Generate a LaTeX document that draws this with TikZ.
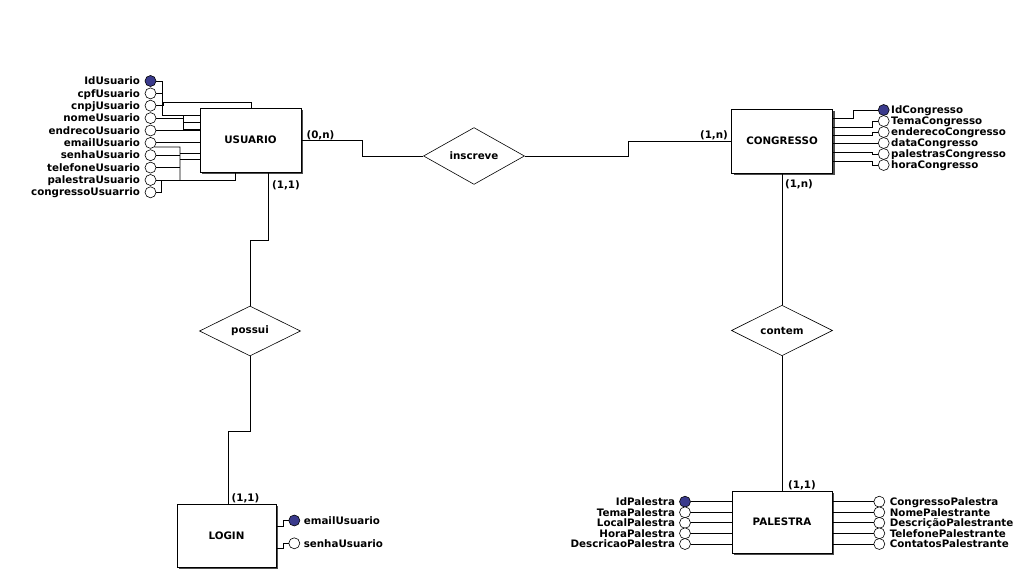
\documentclass[tikz,border=0pt]{standalone}
\usepackage{fontspec}
\setmainfont{DejaVu Sans}
\usetikzlibrary{shapes.geometric,shadows}
\definecolor{keyblue}{RGB}{58,58,140}
\begin{document}
\begin{tikzpicture}[x=1pt,y=-1pt,
  every node/.style={font=\fontsize{10.3}{12}\selectfont\bfseries},
  entity/.style={draw, line width=0.8pt, fill=white, inner sep=0pt, minimum width=101pt, minimum height=64pt,
    drop shadow={shadow xshift=2pt, shadow yshift=-2pt, fill=black!70, opacity=1}},
  rel/.style={diamond, draw, line width=0.6pt, fill=white, inner sep=0pt, minimum width=101pt, minimum height=50pt},
  attr/.style={circle, draw, line width=0.6pt, fill=white, inner sep=0pt, minimum size=11pt},
  keyattr/.style={attr, fill=keyblue},
  conn/.style={line width=0.8pt},
  card/.style={inner sep=0pt},
  ltxt/.style={anchor=base east, inner sep=0pt, yshift=-3.7pt},
  rtxt/.style={anchor=base west, inner sep=0pt, yshift=-3.7pt},
]
\useasboundingbox[fill=white] (0,0) rectangle (1023,575);

% entities
\node[entity] (usuario) at (250.5,140) {USUARIO};
\node[entity] (congresso) at (782,141) {CONGRESSO};
\node[entity, minimum width=100pt, minimum height=62pt] (palestra) at (782,522) {PALESTRA};
\node[entity, minimum width=99pt, minimum height=63pt] (login) at (226.5,535.5) {LOGIN};

% relationships
\node[rel] (inscreve) at (474,156) {inscreve};
\node[rel] (possui) at (250,331) {possui};
\node[rel] (contem) at (782,330.5) {contem};

% relationship connectors
\draw[conn] (usuario.east) -- ++(61,0) |- (inscreve.west);
\draw[conn] (inscreve.east) -- ++(104,0) |- (congresso.west);
\draw[conn] ([xshift=18pt]usuario.south) -- ++(0,68) -| (possui.north);
\draw[conn] (possui.south) -- ++(0,75) -| ([xshift=1.5pt]login.north);
\draw[conn] (congresso.south) -- (contem.north);
\draw[conn] (contem.south) -- (palestra.north);

% cardinalities
\node[card] (k1) at (320.5,135) {(0,n)};
\node[card] (k2) at (714,135) {(1,n)};
\node[card] (k3) at (286,185) {(1,1)};
\node[card] (k4) at (245.5,498) {(1,1)};
\node[card] (k5) at (799,184.5) {(1,n)};
\node[card] (k6) at (802,485) {(1,1)};

% USUARIO attributes
\node[keyattr] (u1) at (150.5,81) {};
\node[ltxt] (ut1) at ([xshift=-4.5pt]u1.west) {IdUsuario};
\foreach \i/\yy/\t in {2/93.4/cpfUsuario, 3/105.7/cnpjUsuario, 4/118.1/nomeUsuario,
  5/130.5/endrecoUsuario, 6/142.9/emailUsuario, 7/155.2/senhaUsuario,
  8/167.6/telefoneUsuario, 9/180/palestraUsuario, 10/192.3/congressoUsuarrio}{
  \node[attr] (u\i) at (150.5,\yy) {};
  \node[ltxt] (ut\i) at ([xshift=-4.5pt]u\i.west) {\t};
}
\draw[conn] (u1.east) -- (162,81) -- (162,115) -- (usuario.west |- 0,115);
\draw[conn] (u2.east) -- (162,93.4);
\draw[conn] (u3.east) -- (163,105.7) -- (163,102) -- (251,102) -- (usuario.north -| 251,0);
\draw[conn] (162,115) -- (183,115) -- (183,129) -- (usuario.west |- 0,129);
\draw[conn] (u4.east) -- (183,118.1) -- (183,122) -- (usuario.west |- 0,122);
\draw[conn] (u5.east) -- (usuario.west |- u5.east);
\draw[conn] (u6.east) -- (usuario.west |- u6.east);
\draw[conn] (u6.-45) -- (180,147) -- (180,180);
\draw[conn] (u7.east) -- (180,155.2);
\draw[conn] (180,153.5) -- (usuario.west |- 0,153.5);
\draw[conn] (180,159.5) -- (usuario.west |- 0,159.5);
\draw[conn] (u8.east) -- (180,167.6);
\draw[conn] (u9.east) -- (235,180) -- (usuario.south -| 235,0);
\draw[conn] (u10.east) -- (161,192.3) -- (161,180);

% CONGRESSO attributes
\node[keyattr] (c1) at (883.7,110) {};
\node[rtxt] (ct1) at ([xshift=1.5pt]c1.east) {IdCongresso};
\foreach \i/\yy/\t in {2/121/TemaCongresso, 3/132/enderecoCongresso, 4/143/dataCongresso,
  5/154/palestrasCongresso, 6/165/horaCongresso}{
  \node[attr] (c\i) at (883.7,\yy) {};
  \node[rtxt] (ct\i) at ([xshift=1.5pt]c\i.east) {\t};
}
\draw[conn] (congresso.east |- 0,118) -- (853,118) |- (c1.west);
\draw[conn] (congresso.east |- 0,127) -- (872,127) |- (c2.west);
\draw[conn] (congresso.east |- 0,135) -- (872,135) |- (c3.west);
\draw[conn] (congresso.east |- c4.west) -- (c4.west);
\draw[conn] (congresso.east |- 0,152) -- (872,152) |- (c5.west);
\draw[conn] (congresso.east |- 0,161) -- (872,161) |- (c6.west);

% PALESTRA attributes
\node[keyattr] (p1) at (685,501.7) {};
\node[ltxt] (pt1) at ([xshift=-4pt]p1.west) {IdPalestra};
\foreach \i/\yy/\t in {2/512.3/TemaPalestra, 3/522.8/LocalPalestra, 4/533.3/HoraPalestra, 5/544/DescricaoPalestra}{
  \node[attr] (p\i) at (685,\yy) {};
  \node[ltxt] (pt\i) at ([xshift=-4pt]p\i.west) {\t};
}
\foreach \i/\yy/\t in {1/501.7/CongressoPalestra, 2/512.3/NomePalestrante, 3/522.8/DescriçãoPalestrante,
  4/533.3/TelefonePalestrante, 5/544/ContatosPalestrante}{
  \node[attr] (q\i) at (879.3,\yy) {};
  \node[rtxt] (qt\i) at ([xshift=4.5pt]q\i.east) {\t};
}
\foreach \i in {1,...,5}{
  \draw[conn] (p\i.east) -- (palestra.west |- p\i.east);
  \draw[conn] (palestra.east |- q\i.west) -- (q\i.west);
}

% LOGIN attributes
\node[keyattr] (l1) at (294.3,520.5) {};
\node[attr] (l2) at (294.3,543.3) {};
\node[rtxt] (lt1) at ([xshift=3.5pt]l1.east) {emailUsuario};
\node[rtxt] (lt2) at ([xshift=3.5pt]l2.east) {senhaUsuario};
\draw[conn] (login.east |- 0,526) -- (283,526) |- (l1.west);
\draw[conn] (login.east |- 0,548) -- (283,548) |- (l2.west);
\end{tikzpicture}
\end{document}
